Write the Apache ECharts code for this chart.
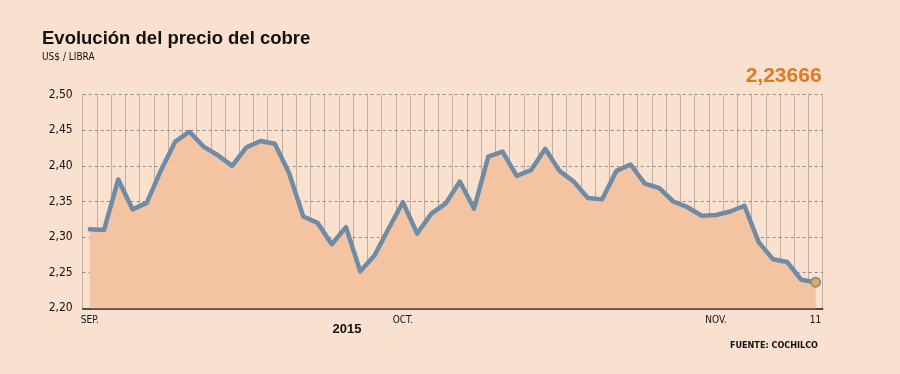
<!DOCTYPE html>
<html>
<head>
<meta charset="utf-8">
<style>
html,body{margin:0;padding:0;background:#fae1cf;}
#chart{width:900px;height:374px;}
</style>
<script src="https://cdn.jsdelivr.net/npm/echarts@6/dist/echarts.min.js"></script>
</head>
<body>
<div id="chart"></div>
<script>
const dates = [
  "2015-09-01","2015-09-02","2015-09-03","2015-09-04","2015-09-07","2015-09-08","2015-09-09","2015-09-10","2015-09-11",
  "2015-09-14","2015-09-15","2015-09-16","2015-09-17","2015-09-18","2015-09-21","2015-09-22","2015-09-23","2015-09-24",
  "2015-09-25","2015-09-28","2015-09-29","2015-09-30",
  "2015-10-01","2015-10-02","2015-10-05","2015-10-06","2015-10-07","2015-10-08","2015-10-09","2015-10-12","2015-10-13",
  "2015-10-14","2015-10-15","2015-10-16","2015-10-19","2015-10-20","2015-10-21","2015-10-22","2015-10-23","2015-10-26",
  "2015-10-27","2015-10-28","2015-10-29","2015-10-30",
  "2015-11-02","2015-11-03","2015-11-04","2015-11-05","2015-11-06","2015-11-09","2015-11-10","2015-11-11"
];
const prices = [
  2.311,2.310,2.381,2.339,2.348,2.394,2.434,2.448,2.427,2.415,2.400,2.426,2.435,2.431,2.390,2.329,2.320,2.290,
  2.314,2.252,2.274,2.312,2.349,2.305,2.333,2.347,2.378,2.340,2.413,2.420,2.386,2.394,2.424,2.393,2.378,
  2.355,2.353,2.393,2.402,2.375,2.369,2.350,2.342,2.330,2.331,2.336,2.344,2.293,2.269,2.265,2.240,2.23666
];
const tickLabels = {"2015-09-01":"SEP.","2015-10-01":"OCT.","2015-11-02":"NOV.","2015-11-11":"11"};
const yearLabel = "2015";
const titleText = "Evolución del precio del cobre";
const unitText = "US$ / LIBRA";
const sourceText = "FUENTE: COCHILCO";

const lastIdx = prices.length - 1;
const lastDate = dates[lastIdx];
const lastVal = prices[lastIdx];
const fmtComma = (v, d) => v.toFixed(d).replace('.', ',');
const COND = '"DejaVu Sans Condensed", "Liberation Sans", sans-serif';

const chart = echarts.init(document.getElementById('chart'));
const option = {
  backgroundColor: '#fae1cf',
  animation: false,
  title: [
    {text: titleText, left: 37, top: 24, padding: 5, textStyle: {fontFamily: 'Liberation Sans', fontWeight: 'bold', fontSize: 18.5, color: '#111'}},
    {text: unitText, left: 37, top: 47, padding: 5, textStyle: {fontFamily: COND, fontWeight: 'normal', fontSize: 10, color: '#111'}}
  ],
  grid: {left: 82.7, right: 77.3, top: 94.7, bottom: 65.7, containLabel: false},
  xAxis: {
    type: 'category',
    data: dates,
    boundaryGap: true,
    axisLine: {show: true, lineStyle: {color: '#222', width: 1.5}},
    axisTick: {show: false},
    axisLabel: {
      interval: (i, v) => tickLabels[v] !== undefined,
      formatter: v => tickLabels[v] || '',
      fontFamily: COND, fontSize: 10, color: '#111', margin: 7
    },
    splitLine: {show: true, interval: 0, lineStyle: {color: 'rgba(125,112,100,0.45)', width: 1}}
  },
  yAxis: {
    type: 'value',
    min: 2.2, max: 2.5, interval: 0.05,
    axisLine: {show: false},
    axisTick: {show: false},
    axisLabel: {formatter: v => fmtComma(v, 2), fontFamily: COND, fontSize: 12, color: '#111', margin: 10},
    splitLine: {show: true, lineStyle: {color: '#958c86', type: [3, 3], width: 1}}
  },
  series: [
    {
      type: 'line',
      data: prices,
      symbol: 'none',
      lineStyle: {color: '#6f8ca4', width: 4.5, join: 'round', cap: 'round'},
      areaStyle: {color: '#f4c3a2', opacity: 1},
      z: 3,
      markLine: {
        silent: true,
        symbol: 'none',
        label: {show: false},
        lineStyle: {color: '#8a8886', width: 2, type: 'solid'},
        data: [[{coord: [lastDate, lastVal]}, {coord: [lastDate, 2.512]}]],
        z: 2
      }
    },
    {
      type: 'scatter',
      data: [[lastDate, lastVal]],
      symbol: 'circle',
      symbolSize: 9,
      itemStyle: {color: '#f2aa3c', borderColor: '#7b91a4', borderWidth: 2, opacity: 1},
      z: 5
    }
  ]
};
chart.setOption(option);

const pTop = chart.convertToPixel({xAxisIndex: 0, yAxisIndex: 0}, [lastDate, 2.512]);
chart.setOption({
  graphic: [
    {type: 'text', x: pTop[0] + 6, y: 76,
      style: {text: fmtComma(lastVal, 5), font: 'bold 21px "Liberation Sans"', fill: '#e07a22', textAlign: 'right', textVerticalAlign: 'middle'}},
    {type: 'text', x: 347, y: 329.5,
      style: {text: yearLabel, font: 'bold 13px "Liberation Sans"', fill: '#111', textAlign: 'center', textVerticalAlign: 'middle'}},
    {type: 'text', x: 818, y: 346,
      style: {text: sourceText, font: 'bold 9px ' + COND, fill: '#111', textAlign: 'right', textVerticalAlign: 'middle'}}
  ]
});
</script>
</body>
</html>
